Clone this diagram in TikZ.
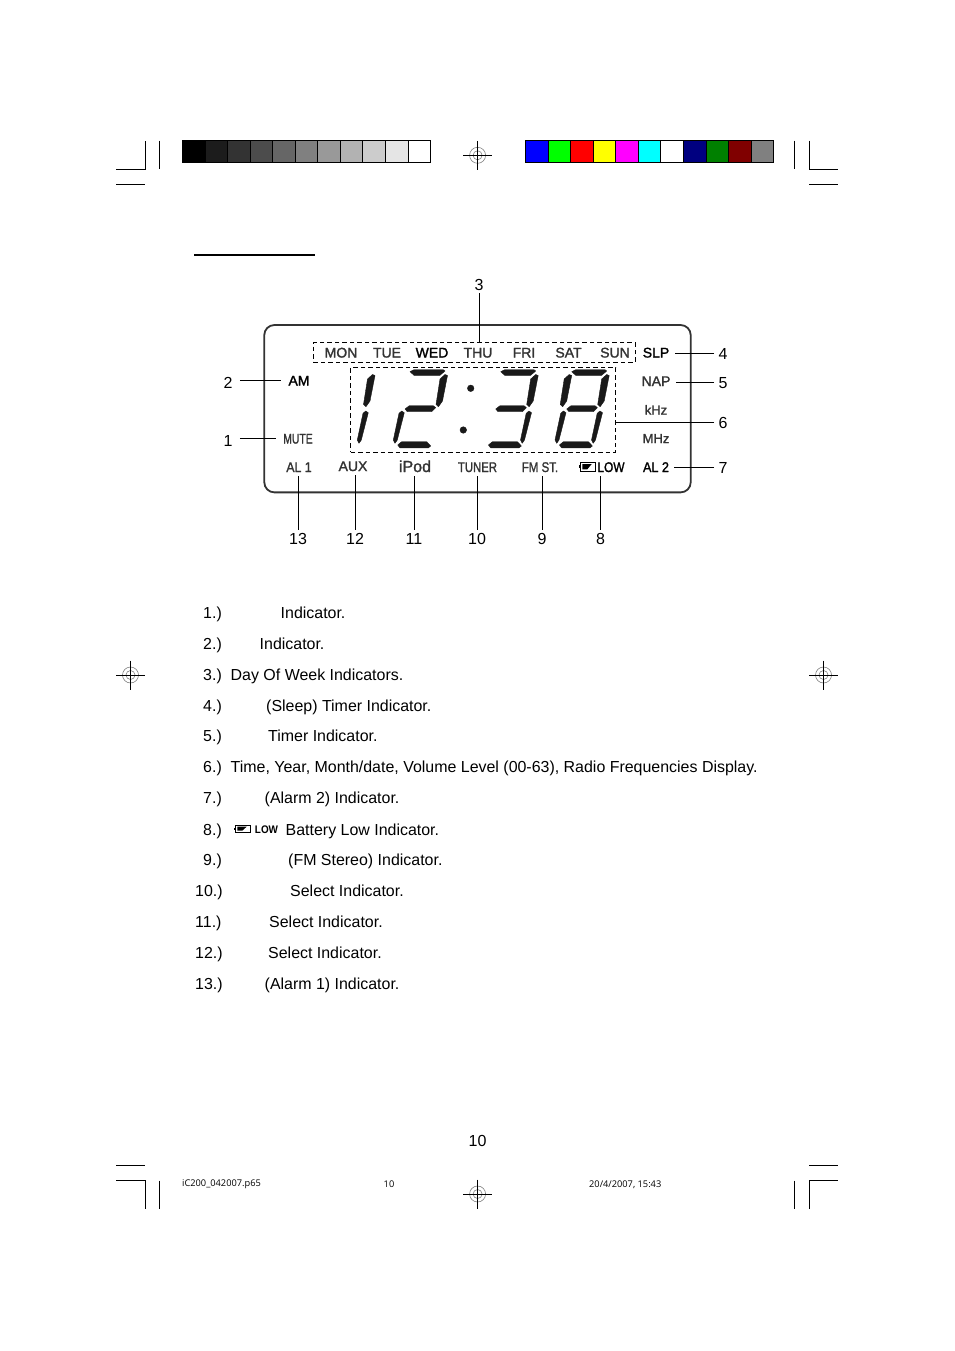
\documentclass[tikz,border=0pt]{standalone}
\usepackage{fontspec}
\setmainfont{Liberation Sans}
\newfontfamily\lcdheavy[FakeBold=1.6]{Liberation Sans}
\newfontfamily\slugfont{Open Sans}
\usetikzlibrary{positioning}
\definecolor{lcdline}{HTML}{333333}
\definecolor{lcdtext}{HTML}{333333}
\definecolor{bluestrip}{HTML}{0000FF}
\definecolor{limestrip}{HTML}{00FF00}
\definecolor{redstrip}{HTML}{FF0000}
\definecolor{yellowstrip}{HTML}{FFFF00}
\definecolor{magentastrip}{HTML}{FF00FF}
\definecolor{cyanstrip}{HTML}{00FFFF}
\definecolor{navystrip}{HTML}{000080}
\definecolor{greenstrip}{HTML}{008000}
\definecolor{maroonstrip}{HTML}{800000}
\definecolor{graystrip}{HTML}{808080}
\definecolor{regring}{HTML}{808080}
\begin{document}
\begin{tikzpicture}[
  x=1pt,y=-1pt,
  crop/.style={line width=1pt},
  swatch/.style={draw,line width=1pt,anchor=north west,inner sep=0pt,
    minimum width=22.6pt,minimum height=22.3pt},
  lcd/.style={font=\fontsize{14}{14}\selectfont\lcdheavy,text=lcdtext,inner sep=0pt,
    outer xsep=5.5pt,outer ysep=4pt,text height=10pt,text depth=0pt},
  lcdblack/.style={lcd,text=black},
  num/.style={font=\fontsize{16}{16}\selectfont,inner sep=0pt,
    outer xsep=4.5pt,outer ysep=3pt,text height=11.5pt,text depth=0pt},
  leader/.style={line width=0.8pt},
  dashbox/.style={draw,line width=0.9pt,dash pattern=on 4.5pt off 3pt,inner sep=0pt},
  segment/.style={fill=black!90,draw=black!90,line width=0.4pt,line join=round},
  listnum/.style={font=\fontsize{15.95}{16}\selectfont,anchor=base west,inner sep=0pt},
  listtxt/.style={font=\fontsize{15.95}{16}\selectfont,anchor=base west,inner sep=0pt},
  slug/.style={font=\fontsize{9.25}{9.25}\selectfont\slugfont,inner sep=0pt},
  pics/sega/.style={code={\filldraw[segment] (410,371.7) -- (414,369.7) -- (443.3,369.7) -- (445,371) -- (440,375.3) -- (414,375.3) -- cycle;}},
  pics/segb/.style={code={\filldraw[segment] (440,379) -- (445,374.5) -- (447.5,375.5) -- (442.5,401) -- (438.5,406.7) -- (436,404.5) -- cycle;}},
  pics/segf/.style={code={\filldraw[segment] (402.5,379) -- (407.5,374.5) -- (410,375.5) -- (405,401) -- (401,406.7) -- (398.5,404.5) -- cycle;}},
  pics/segg/.style={code={\filldraw[segment] (405,409) -- (409.3,405.7) -- (433.3,405.7) -- (435.7,407.7) -- (431.7,411.7) -- (407.3,411.7) -- cycle;}},
  pics/sege/.style={code={\filldraw[segment] (399,413.3) -- (401.7,411) -- (404.3,412.7) -- (397.3,440) -- (395,443.3) -- (393.3,440) -- cycle;}},
  pics/segc/.style={code={\filldraw[segment] (435.5,413.3) -- (438.2,411) -- (440.8,412.7) -- (433.8,440) -- (431.5,443.3) -- (429.8,440) -- cycle;}},
  pics/segd/.style={code={\filldraw[segment] (397.7,445) -- (401.7,441.7) -- (426.7,441.7) -- (430.7,446) -- (428.3,447.9) -- (400,447.9) -- cycle;}},
  pics/battery/.style={code={
    \draw[line width=0.8pt] (0,-4.3) rectangle (15.7,4.3);
    \fill (-1.5,-1.3) rectangle (0,1.3);
    \fill (2.3,-2.7) -- (11.7,-2.7) -- (7.3,2.6) -- (2.3,2.6) -- cycle;}},
  pics/regmark/.style={code={
    \draw[regring,line width=0.6pt] (0,0) circle (8) (0,0) circle (4.5);
    \draw[line width=0.9pt] (-14.5,0) -- (14.5,0) (0,-14.5) -- (0,14.5);}}
]
\useasboundingbox (0,0) rectangle (954,1351);

\draw[crop] (116,169.3) -- (145.3,169.3) -- (145.3,140.7);
\draw[crop] (159.3,140.7) -- (159.3,169.3);
\draw[crop] (116,184.3) -- (145.3,184.3);
\draw[crop] (794.3,140.7) -- (794.3,169.3);
\draw[crop] (809.3,140.7) -- (809.3,169.3) -- (838,169.3);
\draw[crop] (809.3,184.3) -- (838,184.3);
\draw[crop] (116,1165.3) -- (145.3,1165.3);
\draw[crop] (116,1180.5) -- (145.3,1180.5) -- (145.3,1209);
\draw[crop] (159.3,1180.5) -- (159.3,1209);
\draw[crop] (794.3,1180.5) -- (794.3,1209);
\draw[crop] (809.3,1209) -- (809.3,1180.5) -- (838,1180.5);
\draw[crop] (809.3,1165.3) -- (838,1165.3);

\foreach \mx/\my in {477.6/155.3,130.5/675,823.5/675,477.6/1194}
  \pic at (\mx,\my) {regmark};

\foreach \i/\k in {0/100,1/89,2/80,3/70,4/60,5/50,6/40,7/30,8/20,9/10,10/0}
  \node[swatch,fill=black!\k] (gray\i) at ({182+22.55*\i},140) {};
\foreach \i/\c in {0/bluestrip,1/limestrip,2/redstrip,3/yellowstrip,4/magentastrip,5/cyanstrip,6/white,7/navystrip,8/greenstrip,9/maroonstrip,10/graystrip}
  \node[swatch,fill=\c] (tint\i) at ({525+22.57*\i},140) {};

\draw[line width=2pt] (194,254.7) -- (315,254.7);

% display panel
\node[draw=lcdline,line width=1.8pt,rounded corners=10pt,inner sep=0pt,
  minimum width=426.4pt,minimum height=167.3pt] (panel) at (477.5,408.7) {};
\node[dashbox,minimum width=322pt,minimum height=19.6pt] (days) at (474.3,352.5) {};
\node[dashbox,minimum width=265pt,minimum height=84.3pt] (digits) at (483.2,409.9) {};

\foreach \dx/\seglist in {-72.5/{b,c},0/{a,b,g,e,d},90.7/{a,b,g,c,d},161.7/{a,b,c,d,e,f,g}}
  \foreach \s in \seglist
    \pic at (\dx,0) {seg\s};
\fill[segment] (470.7,388.3) circle (3.3);
\fill[segment] (463.3,430) circle (3.3);

\node[lcd] (mon) at (341,352.5) {MON};
\node[lcd] (tue) at (387,352.5) {TUE};
\node[lcdblack] (wed) at (432,352.5) {WED};
\node[lcd] (thu) at (478,352.5) {THU};
\node[lcd] (fri) at (524,352.5) {FRI};
\node[lcd] (sat) at (568.5,352.5) {SAT};
\node[lcd] (sun) at (615,352.5) {SUN};
\node[lcdblack] (slp) at (656,352.5) {SLP};
\node[lcd] (nap) at (656,381) {NAP};
\node[lcd,font=\fontsize{13}{13}\selectfont\lcdheavy] (khz) at (656,409.5) {kHz};
\node[lcd,font=\fontsize{13}{13}\selectfont\lcdheavy] (mhz) at (656,438) {MHz};
\node[lcdblack] (al2) at (656,467) {\scalebox{.9}[1]{AL 2}};
\node[lcdblack] (am) at (299,380.5) {AM};
\node[lcd] (mute) at (298,438.5) {\scalebox{.74}[1]{MUTE}};
\node[lcd] (al1) at (299,467) {\scalebox{.88}[1]{AL 1}};
\node[lcd] (aux) at (353,466) {AUX};
\node[lcd,font=\fontsize{16}{16}\selectfont\lcdheavy] (ipod) at (415,467) {iPod};
\node[lcd] (tuner) at (477.5,467) {\scalebox{.81}[1]{TUNER}};
\node[lcd] (fmst) at (540,467) {\scalebox{.82}[1]{FM ST.}};
\node[lcdblack] (low) at (611,467) {\scalebox{.85}[1]{LOW}};
\pic at (580,466.7) {battery};

\node[num] (n1) at (228,440.5) {1};
\node[num] (n2) at (228,382.5) {2};
\node[num] (n3) at (479,284.5) {3};
\node[num] (n4) at (723,353.7) {4};
\node[num] (n5) at (723,382.7) {5};
\node[num] (n6) at (723,422.7) {6};
\node[num] (n7) at (723,467.5) {7};
\node[num] (n8) at (600.5,538.5) {8};
\node[num] (n9) at (542,538.5) {9};
\node[num] (n10) at (477,538.5) {10};
\node[num] (n11) at (414,538.5) {11};
\node[num] (n12) at (355,538.5) {12};
\node[num] (n13) at (298,538.5) {13};

\draw[leader,shorten <=3pt,shorten >=2pt] (n1.east |- mute) -- (mute.west);
\draw[leader,shorten <=3pt,shorten >=2pt] (n2.east |- am) -- (am.west);
\draw[leader] (n3.south) -- (n3.south |- days.north);
\draw[leader] (n4.west) -- (n4.west -| slp.east);
\draw[leader] (n5.west) -- (n5.west -| nap.east);
\draw[leader] (n6.west) -- (n6.west -| digits.east);
\draw[leader] (n7.west) -- (n7.west -| al2.east);
\draw[leader] (n8.north) -- (n8.north |- low.south);
\draw[leader] (n9.north) -- (n9.north |- fmst.south);
\draw[leader] (n10.north) -- (n10.north |- tuner.south);
\draw[leader] (n11.north) -- (n11.north |- ipod.south);
\draw[leader] (n12.north) -- (n12.north |- aux.south);
\draw[leader] (n13.north) -- (n13.north |- al1.south);

\foreach \n/\y/\nx/\tx/\txt in {
  1/618/203/280.5/{Indicator.},
  2/649/203/259.5/{Indicator.},
  3/680/203/230.5/{Day Of Week Indicators.},
  4/711/203/266/{(Sleep) Timer Indicator.},
  5/741.5/203/268/{Timer Indicator.},
  6/772/203/230.5/{Time, Year, Month/date, Volume Level (00-63), Radio Frequencies Display.},
  7/803/203/264.5/{(Alarm 2) Indicator.},
  8/835/203/285.5/{Battery Low Indicator.},
  9/865/203/288/{(FM Stereo) Indicator.},
  10/896.5/195/290/{Select Indicator.},
  11/927/195/269/{Select Indicator.},
  12/958/195/268/{Select Indicator.},
  13/989/195/264.5/{(Alarm 1) Indicator.}}{
  \node[listnum] (itemnum\n) at (\nx,\y) {\n.)};
  \node[listtxt] (itemtxt\n) at (\tx,\y) {\txt};
}
\pic[yscale=.75] at (235,828.7) {battery};
\node[font=\fontsize{11}{11}\selectfont\bfseries,inner sep=0pt] (lowtxt) at (266.5,829.5) {\scalebox{.9}[1]{LOW}};

\node[num] (page) at (477.5,1140.5) {10};
\node[slug,anchor=west] (slugfile) at (182,1184.5) {iC200\_042007.p65};
\node[slug] (slugpage) at (389,1184.5) {10};
\node[slug,anchor=west] (slugdate) at (589,1184.5) {20/4/2007, 15:43};
\end{tikzpicture}
\end{document}
